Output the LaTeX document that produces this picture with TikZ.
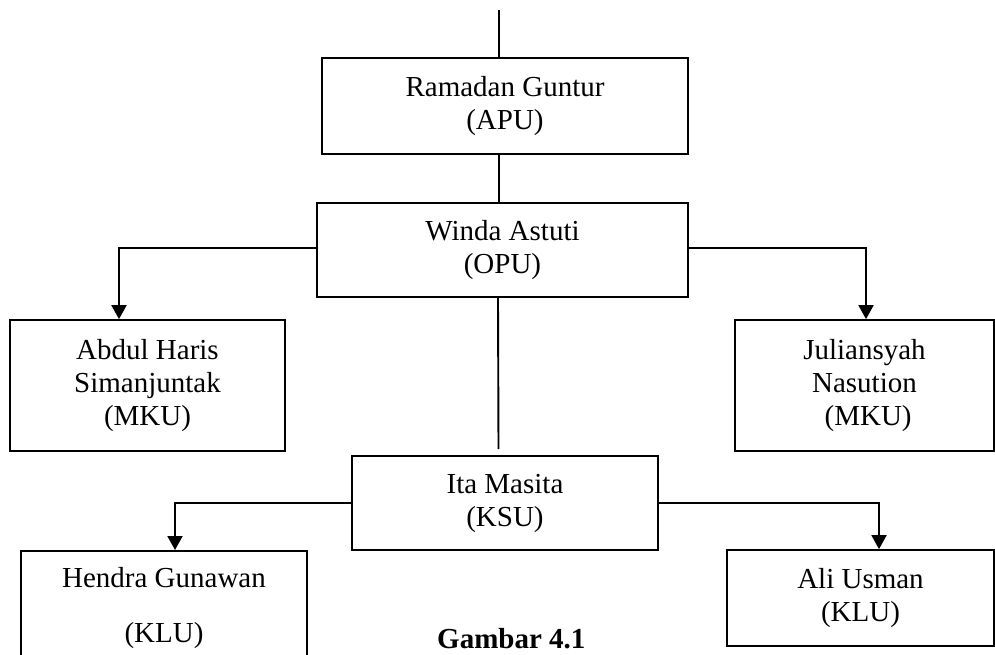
\documentclass[tikz,border=0pt]{standalone}
\usepackage{fontspec}
\setmainfont{Liberation Serif}
\usetikzlibrary{arrows.meta}
\begin{document}
\begin{tikzpicture}[x=1bp,y=-1bp,
  txt/.style={align=center, inner sep=0pt, font=\fontsize{29bp}{33bp}\selectfont},
  box/.style={txt, draw, line width=1.7bp},
  conn/.style={line width=1.9bp},
  arr/.style={conn, -{Triangle[width=15bp,length=14bp]}}]
\useasboundingbox (0,0) rectangle (995,655);
\clip (0,0) rectangle (995,655);
% boxes
\node[box, minimum width=366bp, minimum height=96bp] (ram) at (505,106) {Ramadan Guntur\\(APU)};
\node[box, minimum width=371bp, minimum height=94bp] (winda) at (502.5,250) {Winda Astuti\\(OPU)};
\node[box, minimum width=275bp, minimum height=131bp] (abdul) at (147.5,385.5) {Abdul Haris\\Simanjuntak\\(MKU)};
\node[box, minimum width=259bp, minimum height=131bp] (jul) at (864.5,385.5) {Juliansyah\\Nasution\\\ (MKU)};
\node[box, minimum width=306bp, minimum height=94bp] (ita) at (505,503) {Ita Masita\\(KSU)};
\node[box, minimum width=286bp, minimum height=210bp, anchor=north] (hendra) at (164,550) {};
\node[txt] (hendratxt) at (164,608) {Hendra Gunawan\\[22bp](KLU)};
\node[box, minimum width=267bp, minimum height=96bp] (ali) at (860.5,598) {Ali Usman\\(KLU)};
\node[txt, font=\fontsize{29bp}{33bp}\selectfont\bfseries, anchor=base west] (cap) at (437,648) {Gambar 4.1};
% connectors
\coordinate (top) at (499,10);
\draw[conn] (top) -- (top |- ram.north);
\draw[conn] (ram.south -| top) -- (winda.north -| top);
\draw[conn] ([xshift=-4.5bp]winda.south) -- ([xshift=-6.5bp,yshift=6bp]ita.north);
\draw[arr] ([yshift=2bp]winda.west) -| ([xshift=-28.5bp]abdul.north);
\draw[arr] ([yshift=2bp]winda.east) -| ([xshift=1.5bp]jul.north);
\draw[arr] (ita.west) -| ([xshift=11bp]hendra.north);
\draw[arr] (ita.east) -| ([xshift=18.5bp]ali.north);
\end{tikzpicture}
\end{document}
